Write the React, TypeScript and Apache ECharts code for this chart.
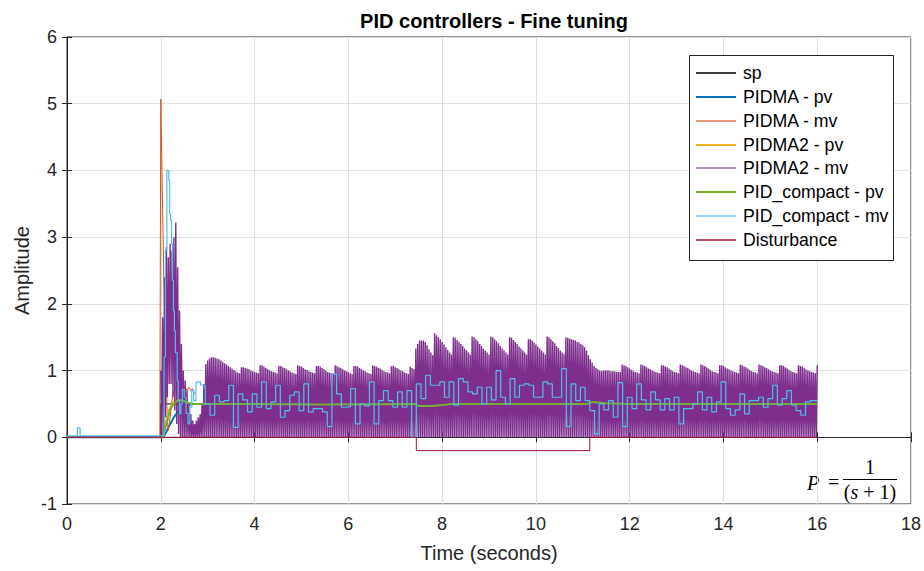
import React, { useEffect, useRef } from "react";
import * as echarts from "echarts";

// ---------- data ----------
const SERIES_NAMES = [
  "sp",
  "PIDMA - pv",
  "PIDMA - mv",
  "PIDMA2 - pv",
  "PIDMA2 - mv",
  "PID_compact - pv",
  "PID_compact - mv",
  "Disturbance",
];

const X_MIN = 0;
const X_MAX = 18;
const X_STEP = 2;
const Y_MIN = -1;
const Y_MAX = 6;
const Y_STEP = 1;

const spData: [number, number][] = [[0, 0], [2, 0], [2, 0.5], [16, 0.5]];

const pidmaPv: [number, number][] = [
  [0, 0], [2.0, 0], [2.05, 0.0], [2.12, 0.08], [2.2, 0.2], [2.28, 0.3], [2.36, 0.38],
  [2.44, 0.44], [2.52, 0.47], [2.62, 0.49], [2.72, 0.5],
];

const pidmaMv: [number, number][] = [
  [0, 0], [1.98, 0], [2.0, 5.07], [2.04, 3.4], [2.08, 1.8], [2.12, 0.8], [2.14, 0.25],
  [2.16, 0.1], [2.2, 0.3], [2.24, 0.55], [2.28, 0.7], [2.32, 0.72], [2.36, 0.78],
  [2.4, 0.7], [2.44, 0.75], [2.48, 0.68], [2.52, 0.76], [2.56, 0.7], [2.6, 0.75],
  [2.64, 0.7], [2.68, 0.73], [2.72, 0.65],
];

const pidma2Pv: [number, number][] = [
  [2.0, 0], [2.03, 0], [2.08, 0.15], [2.13, 0.3], [2.18, 0.42], [2.24, 0.5], [2.3, 0.55],
  [2.38, 0.57], [2.5, 0.53], [2.7, 0.5], [7.42, 0.5], [7.5, 0.47], [8.2, 0.5],
  [11.1, 0.5], [11.2, 0.53], [12, 0.5], [16, 0.5],
];

// PIDMA2 - mv: one peak and one low per 0.04 s cycle, starting at 2.00 s
const PURPLE_T0 = 2.0;
const PURPLE_CYCLE = 0.04;
const purpleEarlyPeaks = [
  1.0, 1.8, 2.4, 2.85, 2.7, 2.9, 2.8, 3.0, 3.22, 2.55, 1.9, 1.4, 1.0, 0.85, 0.7, 0.5,
  0.35, 0.25, 0.2, 0.25, 0.3, 0.35, 0.5, 0.8,
];
const purpleEarlyLows = [0, 0, 0.3, 0.6, 0.8, 0.8, 0.6, 0.4, 0.2, 0.05];
const purpleHump = [
  1.1, 1.15, 1.18, 1.2, 1.2, 1.19, 1.18, 1.17, 1.15, 1.13, 1.11, 1.09, 1.07, 1.05, 1.03,
  1.01, 0.99, 0.97, 0.96,
];
const purpleTeethA = [
  [1.05, 1.05, 1.04, 1.03, 1.02, 1.0, 0.99, 0.98, 0.97, 0.96],
  [1.08, 1.08, 1.06, 1.04, 1.02, 1.0, 0.99, 0.98, 0.97, 0.96],
  [1.07, 1.07, 1.05, 1.04, 1.02, 1.0, 0.99, 0.97, 0.96, 0.95],
  [1.08, 1.07, 1.06, 1.04, 1.02, 1.01, 0.99, 0.98, 0.97, 0.96],
  [1.07, 1.07, 1.06, 1.04, 1.02, 1.0, 0.98, 0.97, 0.96, 0.95],
  [1.08, 1.07, 1.05, 1.04, 1.02, 1.0, 0.99, 0.98, 0.96, 0.95],
  [1.07, 1.07, 1.06, 1.04, 1.02, 1.0, 0.99, 0.97, 0.96, 0.95],
  [1.08, 1.07, 1.06, 1.04, 1.03, 1.01, 0.99, 0.98, 0.97, 0.96],
  [1.07, 1.07, 1.05, 1.04, 1.02, 1.0, 0.99, 0.97, 0.96, 0.95],
  [1.06, 1.04, 1.02],
];
const purpleTeethB = [
  [1.33, 1.4, 1.45, 1.45, 1.45, 1.43, 1.38, 1.32, 1.27, 1.23],
  [1.56, 1.53, 1.5, 1.47, 1.43, 1.39, 1.35, 1.31, 1.27, 1.24],
  [1.5, 1.49, 1.46, 1.43, 1.4, 1.37, 1.33, 1.3, 1.27, 1.24],
  [1.51, 1.5, 1.47, 1.44, 1.4, 1.37, 1.33, 1.3, 1.27, 1.24],
  [1.51, 1.5, 1.47, 1.44, 1.41, 1.37, 1.33, 1.3, 1.27, 1.24],
  [1.5, 1.49, 1.46, 1.43, 1.4, 1.36, 1.33, 1.3, 1.27, 1.24],
  [1.47, 1.47, 1.45, 1.42, 1.39, 1.36, 1.33, 1.3, 1.27, 1.24],
  [1.51, 1.5, 1.47, 1.44, 1.41, 1.37, 1.34, 1.3, 1.27, 1.25],
  [1.5, 1.49, 1.48, 1.47, 1.46, 1.45, 1.43, 1.42, 1.4, 1.38],
];
const purpleTransition = [1.35, 1.3, 1.23, 1.17, 1.12, 1.07, 1.04, 1.02, 1.0, 0.99];
const purpleFlat = [1.0, 1.0, 1.0, 1.0, 0.99, 0.99, 0.99, 0.98, 0.98, 0.98];
const purpleTeethC = [
  [1.09, 1.08, 1.07, 1.05, 1.03, 1.01, 0.99, 0.98, 0.97, 0.96],
  [1.09, 1.08, 1.07, 1.05, 1.03, 1.02, 1.0, 0.99, 0.98, 0.97, 0.96],
  [1.08, 1.08, 1.06, 1.05, 1.03, 1.01, 0.99, 0.98, 0.97, 0.96],
  [1.09, 1.08, 1.07, 1.05, 1.04, 1.02, 1.0, 0.99, 0.98, 0.97, 0.96],
  [1.09, 1.08, 1.07, 1.05, 1.03, 1.01, 0.99, 0.98, 0.97, 0.96],
  [1.08, 1.08, 1.07, 1.05, 1.03, 1.02, 1.0, 0.99, 0.98, 0.97, 0.96],
  [1.09, 1.08, 1.06, 1.05, 1.03, 1.01, 0.99, 0.98, 0.97, 0.96],
  [1.09, 1.08, 1.07, 1.05, 1.04, 1.02, 1.0, 0.99, 0.98, 0.97, 0.96],
  [1.08, 1.08, 1.07, 1.05, 1.03, 1.01, 0.99, 0.98, 0.97, 0.96],
  [1.08, 1.07, 1.06, 1.04, 1.02, 1.0, 0.99, 0.98, 0.97, 0.96],
  [1.08],
];

const pidCompactPv: [number, number][] = [
  [2.0, 0], [2.05, 0], [2.12, 0.2], [2.2, 0.41], [2.27, 0.5], [2.37, 0.56], [2.48, 0.55],
  [2.6, 0.51], [2.7, 0.5], [4.0, 0.5], [5.5, 0.49], [7.42, 0.5], [7.5, 0.47], [7.8, 0.47],
  [8.2, 0.5], [11.1, 0.5], [11.2, 0.53], [11.5, 0.51], [12, 0.5], [16, 0.5],
];

const pidCompactMvEarly: [number, number][] = [
  [0, 0.02], [0.22, 0.14], [0.28, 0.02], [2.04, 0.02], [2.07, 1.2], [2.1, 2.8], [2.13, 4.0],
  [2.17, 3.85], [2.19, 3.35], [2.21, 3.25], [2.23, 2.9], [2.25, 2.35], [2.27, 1.9],
  [2.29, 1.6], [2.31, 1.27], [2.35, 0.85], [2.37, 0.55], [2.4, 0.35], [2.43, 0.5],
  [2.46, 0.72], [2.5, 0.6], [2.54, 0.36], [2.58, 0.2], [2.62, 0.45], [2.66, 0.7], [2.7, 0.55],
];
// held values every 0.1 s starting at 2.75 s
const CYAN_T0 = 2.75;
const CYAN_STEP = 0.1;
const pidCompactMvSteps = [
  0.83, 0.78, 0.5, 0.33, 0.63, 0.53, 0.55, 0.78, 0.15, 0.65, 0.56, 0.38, 0.65, 0.45, 0.83,
  0.43, 0.53, 0.78, 0.3, 0.4, 0.63, 0.68, 0.4, 0.8, 0.38, 0.43, 0.43, 0.38, 0.16, 0.95,
  0.65, 0.45, 0.46, 0.73, 0.2, 0.5, 0.47, 0.83, 0.2, 0.55, 0.7, 0.55, 0.45, 0.68, 0.45,
  0.7, 0.0, 0.8, 0.58, 0.93, 0.78, 0.78, 0.83, 0.6, 0.83, 0.48, 0.88, 0.83, 0.68, 0.65,
  0.75, 0.5, 0.75, 0.56, 1.0, 0.6, 0.5, 0.88, 0.6, 0.78, 0.8, 0.78, 0.6, 0.6, 0.83, 0.8,
  0.6, 0.6, 1.03, 0.16, 0.8, 0.55, 0.75, 0.55, 0.4, 0.05, 0.5, 0.41, 0.55, 0.3, 0.82,
  0.16, 0.6, 0.43, 0.8, 0.56, 0.41, 0.68, 0.56, 0.41, 0.58, 0.41, 0.6, 0.2, 0.43, 0.43,
  0.5, 0.68, 0.41, 0.6, 0.38, 0.53, 0.83, 0.43, 0.33, 0.41, 0.65, 0.35, 0.55, 0.55, 0.6,
  0.45, 0.58, 0.78, 0.48, 0.58, 0.7, 0.48, 0.4, 0.33, 0.53, 0.55,
];
const CYAN_END = 16.0;

const disturbance: [number, number][] = [
  [0, 0], [7.45, 0], [7.45, -0.2], [11.15, -0.2], [11.15, 0], [16, 0],
];

// ---------- helpers ----------
const r2 = (v: number) => Math.round(v * 100) / 100;

function buildPurple(): [number, number][] {
  const peaks: number[] = [
    ...purpleEarlyPeaks,
    ...purpleHump,
    ...purpleTeethA.flat(),
    ...purpleTeethB.flat(),
    ...purpleTransition,
    ...purpleFlat,
    ...purpleTeethC.flat(),
  ];
  const out: [number, number][] = [];
  peaks.forEach((p, i) => {
    const t = PURPLE_T0 + PURPLE_CYCLE * i;
    out.push([r2(t), p]);
    if (i < peaks.length - 1) {
      const low = i < purpleEarlyLows.length ? purpleEarlyLows[i] : 0;
      out.push([r2(t + PURPLE_CYCLE / 2), low]);
    }
  });
  return out;
}

function buildCyan(): [number, number][] {
  const out: [number, number][] = [...pidCompactMvEarly];
  pidCompactMvSteps.forEach((v, i) => out.push([r2(CYAN_T0 + CYAN_STEP * i), v]));
  out.push([CYAN_END, pidCompactMvSteps[pidCompactMvSteps.length - 1]]);
  return out;
}

const FONT = '"Liberation Sans", Arial, Helvetica, sans-serif';
const SERIF = '"Liberation Serif", "DejaVu Serif", serif';
const AX = "#262626";
const GRID = "#dfdfdf";

const STYLES: { color: string; width: number; legend: string }[] = [
  { color: "#000000", width: 1, legend: "#404040" },
  { color: "#0072BD", width: 2, legend: "#0072BD" },
  { color: "#D95319", width: 1, legend: "#EB9C7D" },
  { color: "#EDB120", width: 2, legend: "#EDB120" },
  { color: "#7E2F8E", width: 1.4, legend: "#B48CC0" },
  { color: "#77AC30", width: 2, legend: "#77AC30" },
  { color: "#4DBEEE", width: 1.2, legend: "#98D8F4" },
  { color: "#A2142F", width: 1, legend: "#BD4C62" },
];

export default function App() {
  const ref = useRef<HTMLDivElement>(null);

  useEffect(() => {
    if (!ref.current) return;
    document.body.style.margin = "0";
    const chart = echarts.init(ref.current, undefined, { renderer: "svg" });

    const line = (i: number, data: [number, number][], extra: any = {}) => ({
      name: SERIES_NAMES[i],
      type: "line",
      data,
      symbol: "none",
      showSymbol: false,
      silent: true,
      color: STYLES[i].color,
      lineStyle: { color: STYLES[i].color, width: STYLES[i].width },
      emphasis: { disabled: true },
      ...extra,
    });

    const xBase = { type: "value", min: X_MIN, max: X_MAX, interval: X_STEP };
    const yBase = { type: "value", min: Y_MIN, max: Y_MAX, interval: Y_STEP };

    // legend drawn as a framed box (line samples + labels), above grid lines
    const LX = 689;
    const LY = 55;
    const LW = 204;
    const LH = 205;
    const ROW0 = 73;
    const ROWH = 23.86;
    const LZ = 100;
    const legendChildren: any[] = [
      {
        type: "rect",
        silent: true,
        z: LZ,
        shape: { x: LX + 0.5, y: LY + 0.5, width: LW, height: LH },
        style: { fill: "#ffffff", stroke: AX, lineWidth: 1 },
      },
    ];
    SERIES_NAMES.forEach((name, i) => {
      const y = Math.round(ROW0 + ROWH * i);
      legendChildren.push({
        type: "rect",
        silent: true,
        z: LZ + 1,
        shape: { x: 696, y: y - 1, width: 40, height: 2 },
        style: { fill: STYLES[i].legend },
      });
      legendChildren.push({
        type: "text",
        silent: true,
        z: LZ + 1,
        x: 743,
        y: ROW0 + ROWH * i,
        style: {
          text: name,
          font: `17.7px ${FONT}`,
          fill: "#000",
          align: "left",
          verticalAlign: "middle",
        },
      });
    });

    chart.setOption({
      animation: false,
      backgroundColor: "#ffffff",
      title: {
        text: "PID controllers - Fine tuning",
        left: 489,
        top: 6,
        textAlign: "center",
        textStyle: { fontFamily: FONT, fontSize: 20, fontWeight: "bold", color: "#000" },
      },
      grid: {
        left: 67,
        right: 13,
        top: 37,
        bottom: 67,
        show: true,
        borderColor: AX,
        borderWidth: 1,
        containLabel: false,
        outerBoundsMode: "none",
      },
      xAxis: [
        {
          ...xBase,
          position: "bottom",
          name: "Time (seconds)",
          nameLocation: "middle",
          nameGap: 39,
          nameMoveOverlap: false,
          nameTextStyle: { fontFamily: FONT, fontSize: 20, color: AX },
          axisLine: { show: true, lineStyle: { color: AX, width: 1 } },
          axisTick: { show: true, inside: true, length: 5, lineStyle: { color: AX } },
          axisLabel: { fontFamily: FONT, fontSize: 18, color: AX, margin: 11 },
          splitLine: { show: true, lineStyle: { color: GRID, width: 1 } },
        },
        {
          ...xBase,
          position: "top",
          axisLine: { show: true, lineStyle: { color: AX, width: 1 } },
          axisTick: { show: true, inside: true, length: 5, lineStyle: { color: AX } },
          axisLabel: { show: false },
          splitLine: { show: false },
        },
      ],
      yAxis: [
        {
          ...yBase,
          position: "left",
          name: "Amplitude",
          nameLocation: "middle",
          nameGap: 35,
          nameMoveOverlap: false,
          nameTextStyle: { fontFamily: FONT, fontSize: 20, color: AX },
          axisLine: { show: true, lineStyle: { color: AX, width: 1 } },
          axisTick: { show: true, inside: true, length: 5, lineStyle: { color: AX } },
          axisLabel: { fontFamily: FONT, fontSize: 18, color: AX, margin: 10 },
          splitLine: { show: true, lineStyle: { color: GRID, width: 1 } },
        },
        {
          ...yBase,
          position: "right",
          axisLine: { show: true, lineStyle: { color: AX, width: 1 } },
          axisTick: { show: true, inside: true, length: 5, lineStyle: { color: AX } },
          axisLabel: { show: false },
          splitLine: { show: false },
        },
      ],
      series: [
        line(0, spData),
        line(1, pidmaPv),
        line(2, pidmaMv),
        line(3, pidma2Pv),
        line(4, buildPurple()),
        line(5, pidCompactPv),
        line(6, buildCyan(), { step: "end" }),
        line(7, disturbance),
      ],
      graphic: [
        { type: "group", z: LZ, children: legendChildren },
        {
          type: "text",
          x: 807,
          y: 483,
          silent: true,
          style: {
            text: "P",
            font: `italic 20px ${SERIF}`,
            fill: "#000",
            align: "left",
            verticalAlign: "middle",
          },
        },
        {
          type: "text",
          x: 828,
          y: 482,
          silent: true,
          style: {
            text: "=",
            font: `20px ${SERIF}`,
            fill: "#000",
            align: "left",
            verticalAlign: "middle",
          },
        },
        {
          type: "line",
          silent: true,
          shape: { x1: 843, y1: 479.5, x2: 897, y2: 479.5 },
          style: { stroke: "#000", lineWidth: 1 },
        },
        {
          type: "text",
          x: 870,
          y: 467,
          silent: true,
          style: {
            text: "1",
            font: `20px ${SERIF}`,
            fill: "#000",
            align: "center",
            verticalAlign: "middle",
          },
        },
        {
          type: "text",
          x: 870,
          y: 492,
          silent: true,
          style: {
            text: "({i|s} + 1)",
            font: `20px ${SERIF}`,
            fill: "#000",
            align: "center",
            verticalAlign: "middle",
            rich: {
              i: { fontFamily: SERIF, fontSize: 20, fontStyle: "italic", fill: "#000" },
            },
          },
        },
      ],
    });

    return () => chart.dispose();
  }, []);

  return (
    <div
      ref={ref}
      style={{ position: "fixed", left: 0, top: 0, width: 924, height: 571, background: "#fff" }}
    />
  );
}
